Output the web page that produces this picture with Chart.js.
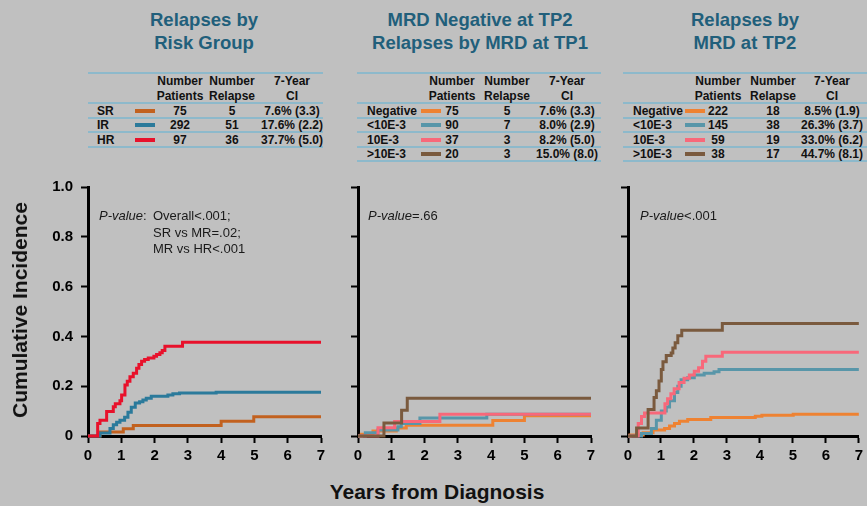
<!DOCTYPE html>
<html><head><meta charset="utf-8">
<script src="https://cdn.jsdelivr.net/npm/chart.js@4.4.1/dist/chart.umd.min.js"></script>
<style>
html,body{margin:0;padding:0;}
body{width:867px;height:506px;background:#c0c0c0;position:relative;overflow:hidden;font-family:"Liberation Sans",Arial,sans-serif;}
.abs{position:absolute;white-space:nowrap;}
canvas{position:absolute;}
.title{color:#215f7b;font-weight:bold;font-size:18.5px;line-height:23px;}
.tx{font-weight:bold;font-size:12px;color:#111;line-height:14px;}
.pv{font-size:13px;color:#1a1a1a;line-height:16px;}
.hl{position:absolute;height:2px;background:#8db9cb;}
.sw{position:absolute;height:4px;width:20px;}
.axt{font-weight:bold;font-size:21px;color:#111;}
</style></head><body>
<script>
// ---------- DATA ----------
const xTickValues = [0, 1, 2, 3, 4, 5, 6, 7];
const yTickValues = [0, 0.2, 0.4, 0.6, 0.8, 1.0];
const tableHeaders = [['Number', 'Patients'], ['Number', 'Relapse'], ['7-Year', 'CI']];

// Panel 1: Relapses by Risk Group
const riskLabels = ['SR', 'IR', 'HR'];
const riskPatients = [75, 292, 97];
const riskRelapses = [5, 51, 36];
const riskCI = ['7.6% (3.3)', '17.6% (2.2)', '37.7% (5.0)'];
const riskColors = ['#c2611f', '#2b7a9b', '#e8112b'];
const riskSR = [[0,0],[0.36,0.016],[1.06,0.029],[1.36,0.042],[4.0,0.059],[4.98,0.077],[7,0.077]];
const riskIR = [[0,0],[0.36,0.012],[0.66,0.03],[0.76,0.045],[0.86,0.055],[0.96,0.063],[1.1,0.075],[1.2,0.095],[1.3,0.115],[1.42,0.133],[1.55,0.138],[1.65,0.145],[1.75,0.152],[1.9,0.16],[2.4,0.165],[2.55,0.17],[2.75,0.173],[3.85,0.176],[7,0.176]];
const riskHR = [[0,0],[0.29,0.05],[0.36,0.063],[0.56,0.098],[0.76,0.117],[0.82,0.13],[0.96,0.142],[1.01,0.165],[1.11,0.205],[1.18,0.22],[1.26,0.238],[1.36,0.252],[1.46,0.272],[1.53,0.287],[1.61,0.3],[1.7,0.307],[1.81,0.313],[1.98,0.32],[2.06,0.327],[2.16,0.334],[2.23,0.343],[2.31,0.36],[2.84,0.377],[7,0.377]];

// Panel 2: MRD Negative at TP2, Relapses by MRD at TP1
const mrdLabels = ['Negative', '<10E-3', '10E-3', '>10E-3'];
const mrdColors = ['#ee8232', '#5896a9', '#f8687a', '#7a5a3e'];
const tp1Patients = [75, 90, 37, 20];
const tp1Relapses = [5, 7, 3, 3];
const tp1CI = ['7.6% (3.3)', '8.0% (2.9)', '8.2% (5.0)', '15.0% (8.0)'];
const tp1Neg = [[0,0],[0.1,0.007],[0.45,0.02],[1.15,0.032],[1.45,0.043],[4.05,0.062],[5.0,0.081],[7,0.081]];
const tp1Low = [[0,0],[0.22,0.013],[0.6,0.024],[1.2,0.037],[1.3,0.05],[1.86,0.072],[3.87,0.087],[7,0.087]];
const tp1Mid = [[0,0],[0.6,0.033],[1.1,0.058],[2.46,0.087],[7,0.087]];
const tp1High = [[0,0],[0.78,0.052],[1.31,0.103],[1.48,0.152],[7,0.152]];

// Panel 3: Relapses by MRD at TP2
const tp2Patients = [222, 145, 59, 38];
const tp2Relapses = [18, 38, 19, 17];
const tp2CI = ['8.5% (1.9)', '26.3% (3.7)', '33.0% (6.2)', '44.7% (8.1)'];
const tp2Neg = [[0,0],[0.06,0.004],[0.46,0.013],[0.76,0.024],[1.11,0.03],[1.26,0.04],[1.41,0.05],[1.56,0.059],[1.81,0.066],[2.51,0.074],[3.86,0.079],[4.06,0.083],[5.01,0.087],[7,0.087]];
const tp2Low = [[0,0],[0.41,0.01],[0.71,0.03],[0.86,0.063],[1.01,0.1],[1.16,0.116],[1.26,0.142],[1.41,0.175],[1.51,0.2],[1.61,0.226],[1.81,0.234],[2.01,0.245],[2.31,0.252],[2.61,0.258],[2.76,0.267],[7,0.267]];
const tp2Mid = [[0,0],[0.31,0.05],[0.41,0.078],[0.5,0.092],[1.12,0.13],[1.2,0.15],[1.3,0.17],[1.4,0.19],[1.55,0.215],[1.7,0.232],[1.86,0.245],[2.01,0.26],[2.14,0.274],[2.26,0.3],[2.36,0.32],[2.86,0.336],[7,0.336]];
const tp2High = [[0,0],[0.26,0.032],[0.61,0.106],[0.79,0.155],[0.86,0.182],[0.94,0.221],[1.01,0.267],[1.06,0.298],[1.16,0.323],[1.31,0.333],[1.36,0.353],[1.43,0.375],[1.51,0.403],[1.63,0.425],[2.86,0.452],[7,0.452]];

const pValues = [['Overall<.001;', 'SR vs MR=.02;', 'MR vs HR<.001'], ['=.66'], ['<.001']];
const titles = [['Relapses by', 'Risk Group'], ['MRD Negative at TP2', 'Relapses by MRD at TP1'], ['Relapses by', 'MRD at TP2']];

// ---------- LAYOUT ----------
const panels = [
  {titleX: 204, tLeft: 88, tRight: 323, labelX: 97, swX: 135, cols: [180, 232, 292],
   labels: riskLabels, patients: riskPatients, relapses: riskRelapses, ci: riskCI, colors: riskColors,
   series: [riskHR, riskIR, riskSR], seriesColors: [riskColors[2], riskColors[1], riskColors[0]],
   canvas: {left: 0, width: 336, yW: 88, padR: 15}, showY: true, pvX: 99},
  {titleX: 480, tLeft: 357, tRight: 601, labelX: 367, swX: 421, cols: [452, 507, 567],
   labels: mrdLabels, patients: tp1Patients, relapses: tp1Relapses, ci: tp1CI, colors: mrdColors,
   series: [tp1High, tp1Mid, tp1Low, tp1Neg], seriesColors: [mrdColors[3], mrdColors[2], mrdColors[1], mrdColors[0]],
   canvas: {left: 340, width: 266, yW: 18, padR: 15}, showY: false, pvX: 368},
  {titleX: 745, tLeft: 623, tRight: 867, labelX: 633, swX: 685, cols: [718, 773, 832],
   labels: mrdLabels, patients: tp2Patients, relapses: tp2Relapses, ci: tp2CI, colors: mrdColors,
   series: [tp2High, tp2Mid, tp2Low, tp2Neg], seriesColors: [mrdColors[3], mrdColors[2], mrdColors[1], mrdColors[0]],
   canvas: {left: 610, width: 257, yW: 18, padR: 5}, showY: false, pvX: 640}
];

function el(tag, cls, html, style) {
  const d = document.createElement(tag);
  if (cls) d.className = cls;
  if (html !== undefined) d.innerHTML = html;
  Object.assign(d.style, style || {});
  document.body.appendChild(d);
  return d;
}
function esc(s) { return String(s).replace(/&/g,'&amp;').replace(/</g,'&lt;').replace(/>/g,'&gt;'); }
function txt(cls, s, x, y, align) {
  const tr = align === 'center' ? 'translate(-50%,-50%)' : 'translate(0,-50%)';
  return el('div', 'abs ' + cls, esc(s), {left: x + 'px', top: y + 'px', transform: tr});
}

Chart.defaults.font.family = '"Liberation Sans", Arial, sans-serif';

panels.forEach((p, pi) => {
  // title
  titles[pi].forEach((t, i) => txt('title', t, p.titleX, 19 + i * 23, 'center'));
  // table lines
  const nRows = p.labels.length;
  const lineYs = [73, 103];
  for (let i = 1; i <= nRows; i++) lineYs.push(103 + i * 14.5);
  lineYs.forEach(y => el('div', 'hl', undefined, {left: p.tLeft + 'px', width: (p.tRight - p.tLeft) + 'px', top: (y - 1) + 'px'}));
  // headers
  tableHeaders.forEach((h, ci) => {
    txt('tx', h[0], p.cols[ci], 81, 'center');
    txt('tx', h[1], p.cols[ci], 96, 'center');
  });
  // rows
  for (let r = 0; r < nRows; r++) {
    const cy = 103 + r * 14.5 + 7.5;
    txt('tx', p.labels[r], p.labelX, cy, 'left');
    el('div', 'sw', undefined, {left: p.swX + 'px', top: (cy - 2) + 'px', background: p.colors[r]});
    txt('tx', p.patients[r], p.cols[0], cy, 'center');
    txt('tx', p.relapses[r], p.cols[1], cy, 'center');
    txt('tx', p.ci[r], p.cols[2], cy, 'center');
  }
  // chart
  const cv = document.createElement('canvas');
  cv.width = p.canvas.width; cv.height = 300;
  cv.style.left = p.canvas.left + 'px'; cv.style.top = '170px';
  cv.style.width = p.canvas.width + 'px'; cv.style.height = '300px';
  document.body.appendChild(cv);
  const gridOpts = {display: true, drawOnChartArea: false, drawTicks: true, tickLength: 7, tickWidth: 2, tickColor: '#000'};
  const borderOpts = {display: true, color: '#000', width: 3};
  new Chart(cv.getContext('2d'), {
    type: 'line',
    data: {
      datasets: p.series.map((s, i) => ({
        data: s.map(pt => ({x: pt[0], y: pt[1]})),
        borderColor: p.seriesColors[i], borderWidth: 3, stepped: 'before',
        pointRadius: 0, fill: false, clip: 6, borderJoinStyle: 'miter', borderCapStyle: 'butt'
      }))
    },
    options: {
      responsive: false, animation: false, devicePixelRatio: 1,
      layout: {padding: {top: 13, right: p.canvas.padR, bottom: 0, left: 0}},
      plugins: {legend: {display: false}, tooltip: {enabled: false}},
      scales: {
        x: {type: 'linear', min: 0, max: 7,
            afterFit: s => { s.height = 34; },
            afterBuildTicks: s => { s.ticks = xTickValues.map(v => ({value: v})); },
            ticks: {padding: 4, color: '#000', font: {size: 15, weight: 'bold'}, maxRotation: 0, autoSkip: false,
                    callback: v => String(v)},
            grid: gridOpts, border: borderOpts},
        y: {type: 'linear', min: 0, max: 1,
            afterFit: s => { s.width = p.canvas.yW; },
            afterBuildTicks: s => { s.ticks = yTickValues.map(v => ({value: v})); },
            ticks: {padding: 8, color: '#000', font: {size: 15, weight: 'bold'},
                    callback: v => p.showY ? (v === 0 ? '0' : Number(v).toFixed(1)) : ''},
            grid: gridOpts, border: borderOpts}
      }
    }
  });
  // p-value annotation
  const pv = pValues[pi];
  if (pi === 0) {
    el('div', 'abs pv', '<i>P-value</i>:', {left: p.pvX + 'px', top: '216px', transform: 'translate(0,-50%)'});
    pv.forEach((s, i) => txt('pv', s, 153, 216 + i * 16.5, 'left'));
  } else {
    el('div', 'abs pv', '<i>P-value</i>' + esc(pv[0]), {left: p.pvX + 'px', top: '216px', transform: 'translate(0,-50%)'});
  }
});

// axis titles
el('div', 'abs axt', 'Cumulative Incidence', {left: '20px', top: '310px', transform: 'translate(-50%,-50%) rotate(-90deg)'});
el('div', 'abs axt', 'Years from Diagnosis', {left: '437px', top: '492px', transform: 'translate(-50%,-50%)'});
</script>
</body></html>
